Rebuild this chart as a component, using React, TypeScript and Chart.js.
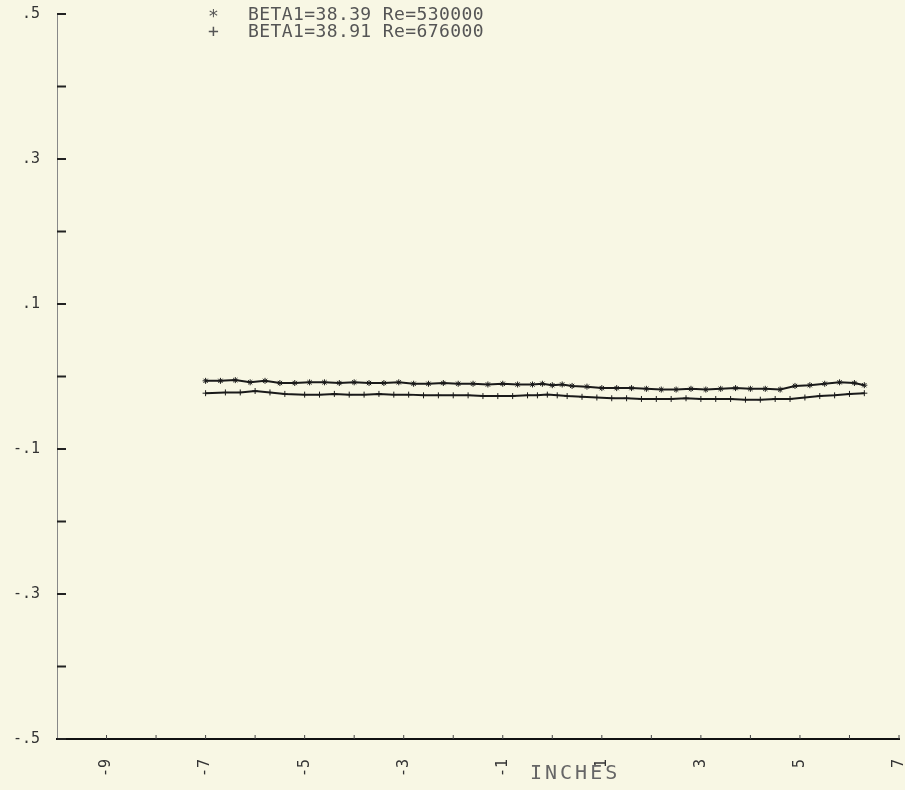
import React, { useEffect, useRef } from "react";
import { Chart, registerables } from "chart.js";

Chart.register(...registerables);

const starLabel = "BETA1=38.39 Re=530000";
const plusLabel = "BETA1=38.91 Re=676000";
const xTitle = "INCHES";

const starX = [-7.0, -6.7, -6.4, -6.1, -5.8, -5.5, -5.2, -4.9, -4.6, -4.3, -4.0, -3.7, -3.4, -3.1, -2.8, -2.5, -2.2, -1.9, -1.6, -1.3, -1.0, -0.7, -0.4, -0.2, 0.0, 0.2, 0.4, 0.7, 1.0, 1.3, 1.6, 1.9, 2.2, 2.5, 2.8, 3.1, 3.4, 3.7, 4.0, 4.3, 4.6, 4.9, 5.2, 5.5, 5.8, 6.1, 6.3];
const starY = [-0.006, -0.006, -0.005, -0.008, -0.006, -0.009, -0.009, -0.008, -0.008, -0.009, -0.008, -0.009, -0.009, -0.008, -0.010, -0.010, -0.009, -0.010, -0.010, -0.011, -0.010, -0.011, -0.011, -0.010, -0.012, -0.011, -0.013, -0.014, -0.016, -0.016, -0.016, -0.017, -0.018, -0.018, -0.017, -0.018, -0.017, -0.016, -0.017, -0.017, -0.018, -0.013, -0.012, -0.010, -0.008, -0.009, -0.012];

const plusX = [-7.0, -6.6, -6.3, -6.0, -5.7, -5.4, -5.0, -4.7, -4.4, -4.1, -3.8, -3.5, -3.2, -2.9, -2.6, -2.3, -2.0, -1.7, -1.4, -1.1, -0.8, -0.5, -0.3, -0.1, 0.1, 0.3, 0.6, 0.9, 1.2, 1.5, 1.8, 2.1, 2.4, 2.7, 3.0, 3.3, 3.6, 3.9, 4.2, 4.5, 4.8, 5.1, 5.4, 5.7, 6.0, 6.3];
const plusY = [-0.023, -0.022, -0.022, -0.020, -0.022, -0.024, -0.025, -0.025, -0.024, -0.025, -0.025, -0.024, -0.025, -0.025, -0.026, -0.026, -0.026, -0.026, -0.027, -0.027, -0.027, -0.026, -0.026, -0.025, -0.026, -0.027, -0.028, -0.029, -0.030, -0.030, -0.031, -0.031, -0.031, -0.030, -0.031, -0.031, -0.031, -0.032, -0.032, -0.031, -0.031, -0.029, -0.027, -0.026, -0.024, -0.023];

const xMin = -10;
const xMax = 7;
const yMin = -0.5;
const yMax = 0.5;

const fmtY = (v: number) => {
  const s = Math.abs(v).toFixed(1).replace(/^0/, "");
  return v < 0 ? "-" + s : s;
};

const bgPlugin = {
  id: "bg",
  beforeDraw(chart: any) {
    const ctx = chart.ctx;
    ctx.save();
    ctx.fillStyle = "#f8f7e4";
    ctx.fillRect(0, 0, chart.width, chart.height);
    ctx.restore();
  },
};

const decorPlugin = {
  id: "decor",
  afterDraw(chart: any) {
    const ctx = chart.ctx;
    const xs = chart.scales.x;
    const ys = chart.scales.y;
    const area = chart.chartArea;
    ctx.save();
    ctx.strokeStyle = "#222";
    ctx.lineWidth = 2;
    for (let i = 0; i <= 10; i++) {
      const v = yMin + i * 0.1;
      const py = ys.getPixelForValue(v);
      ctx.beginPath();
      ctx.moveTo(area.left, py);
      ctx.lineTo(area.left + 9, py);
      ctx.stroke();
    }
    ctx.lineWidth = 1;
    ctx.strokeStyle = "#444";
    for (let v = xMin + 1; v <= xMax; v++) {
      const px = xs.getPixelForValue(v);
      ctx.beginPath();
      ctx.moveTo(px, area.bottom);
      ctx.lineTo(px, area.bottom - 4);
      ctx.stroke();
    }
    ctx.fillStyle = "#555";
    ctx.font = "18px 'DejaVu Sans Mono'";
    ctx.textBaseline = "middle";
    ctx.fillText("*", 208, 17);
    ctx.fillText("+", 208, 32);
    (ctx as any).letterSpacing = "0.4px";
    ctx.fillText(starLabel, 248, 15);
    ctx.fillText(plusLabel, 248, 32);
    ctx.font = "20px 'DejaVu Sans Mono'";
    (ctx as any).letterSpacing = "3px";
    ctx.fillStyle = "#666";
    ctx.textAlign = "left";
    ctx.fillText(xTitle, 530, 774);
    ctx.restore();
  },
};

export default function App() {
  const ref = useRef<HTMLCanvasElement>(null);
  useEffect(() => {
    if (!ref.current) return;
    const chart = new Chart(ref.current, {
      type: "scatter",
      data: {
        datasets: [
          {
            label: starLabel,
            data: starX.map((x, i) => ({ x, y: starY[i] })),
            showLine: true,
            borderColor: "#1a1a1a",
            backgroundColor: "#1a1a1a",
            borderWidth: 2,
            pointStyle: "star",
            pointRadius: 3,
            pointBorderWidth: 1,
          },
          {
            label: plusLabel,
            data: plusX.map((x, i) => ({ x, y: plusY[i] })),
            showLine: true,
            borderColor: "#1a1a1a",
            backgroundColor: "#1a1a1a",
            borderWidth: 2,
            pointStyle: "cross",
            pointRadius: 3,
            pointBorderWidth: 1,
          },
        ],
      },
      options: {
        animation: false,
        responsive: false,
        layout: { padding: { top: 14, right: 6, left: 0, bottom: 0 } },
        plugins: { legend: { display: false }, tooltip: { enabled: false } },
        scales: {
          x: {
            type: "linear",
            min: xMin,
            max: xMax,
            afterFit: (s: any) => {
              s.height = 51;
              s.paddingLeft = 0;
              s.paddingRight = 0;
            },
            grid: { display: false, drawTicks: false },
            border: { display: true, color: "#111", width: 2 },
            ticks: {
              stepSize: 1,
              autoSkip: false,
              minRotation: 90,
              maxRotation: 90,
              padding: 20,
              color: "#333",
              font: { family: "'DejaVu Sans Mono'", size: 15 },
              callback: (v: any) => (Math.abs(v) % 2 === 1 ? String(v) : ""),
            },
          },
          y: {
            type: "linear",
            min: yMin,
            max: yMax,
            afterFit: (s: any) => {
              s.width = 57;
              s.paddingTop = 0;
              s.paddingBottom = 0;
            },
            grid: { display: false, drawTicks: false },
            border: { display: true, color: "#888", width: 1, dash: [5, 3] },
            ticks: {
              stepSize: 0.1,
              autoSkip: false,
              padding: 17,
              color: "#333",
              font: { family: "'DejaVu Sans Mono'", size: 15 },
              callback: (v: any) => {
                const k = Math.round(v * 10);
                return Math.abs(k) % 2 === 1 ? fmtY(k / 10) : "";
              },
            },
          },
        },
      },
      plugins: [bgPlugin, decorPlugin],
    });
    return () => chart.destroy();
  }, []);
  return (
    <div style={{ position: "absolute", left: 0, top: 0, width: 905, height: 790, background: "#f8f7e4" }}>
      <canvas ref={ref} width={905} height={790} style={{ display: "block" }} />
    </div>
  );
}
